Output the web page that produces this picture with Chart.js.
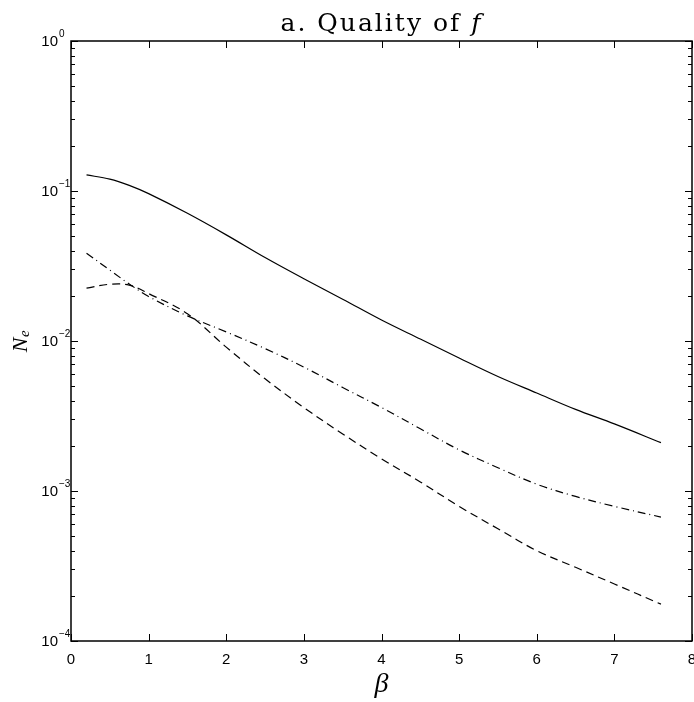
<!DOCTYPE html>
<html>
<head>
<meta charset="utf-8">
<script src="https://cdn.jsdelivr.net/npm/chart.js@4.4.1/dist/chart.umd.min.js"></script>
<style>
  html, body { margin: 0; padding: 0; background: #fff; }
  #wrap { width: 694px; height: 702px; }
</style>
</head>
<body>
<div id="wrap"><canvas id="c" width="694" height="702"></canvas></div>
<script>
// beta values
var beta = [0.2, 0.5, 0.75, 1, 1.5, 2, 2.5, 3, 3.5, 4, 4.5, 5, 5.5, 6, 6.5, 7, 7.6];
// solid
var neSolid = [0.128, 0.120, 0.109, 0.096, 0.071, 0.051, 0.036, 0.026, 0.019, 0.0138, 0.0103, 0.0077, 0.0058, 0.0045, 0.0035, 0.0028, 0.0021];
// dash-dot
var neDashDot = [0.0385, 0.0297, 0.0240, 0.0198, 0.0147, 0.0115, 0.0089, 0.0067, 0.0049, 0.0036, 0.0026, 0.00188, 0.00143, 0.00111, 0.00092, 0.00079, 0.00067];
// dashed
var neDashed = [0.0225, 0.0239, 0.0236, 0.0207, 0.0152, 0.0091, 0.0056, 0.0036, 0.0024, 0.00164, 0.00115, 0.00079, 0.00056, 0.00040, 0.00031, 0.00024, 0.000176];
var xTicks = [0, 1, 2, 3, 4, 5, 6, 7, 8];
var yTicks = [1e-4, 1e-3, 1e-2, 1e-1, 1];
var yTickExp = ['\u22124', '\u22123', '\u22122', '\u22121', '0'];

function pts(ys) {
	return beta.map(function(b, i) { return {x: b, y: ys[i]}; });
}

function line(ys, dash) {
	return {
		data: pts(ys),
		borderColor: '#000',
		borderWidth: 1.2,
		borderDash: dash,
		pointRadius: 0,
		fill: false,
		tension: 0.35
	};
}

// frame, inward ticks, y labels, title and axis titles
var decor = {
	id: 'decor',
	afterDraw: function(chart) {
		var c = chart.ctx, a = chart.chartArea;
		var xs = chart.scales.x, ys = chart.scales.y;
		c.save();
		c.strokeStyle = '#000';
		c.lineWidth = 1;
		c.beginPath();
		xTicks.forEach(function(t) {
			var px = Math.round(xs.getPixelForValue(t)) + 0.5;
			c.moveTo(px, a.bottom); c.lineTo(px, a.bottom - 7);
			c.moveTo(px, a.top); c.lineTo(px, a.top + 7);
		});
		for (var d = -4; d <= 0; d++) {
			for (var m = 1; m <= 9; m++) {
				var v = m * Math.pow(10, d);
				if (v > 1) break;
				var py = Math.round(ys.getPixelForValue(v)) + 0.5;
				var len = m == 1 ? 7 : 4;
				c.moveTo(a.left, py); c.lineTo(a.left + len, py);
				c.moveTo(a.right, py); c.lineTo(a.right - len, py);
			}
		}
		c.stroke();
		c.lineWidth = 1.5;
		c.strokeRect(a.left, a.top, a.right - a.left, a.bottom - a.top);

		// y tick labels 10^k
		c.fillStyle = '#000';
		yTicks.forEach(function(v, i) {
			var py = ys.getPixelForValue(v);
			c.textBaseline = 'middle';
			c.textAlign = 'right';
			c.font = '15px "Liberation Sans"';
			c.fillText('10', 58, py + 1);
			c.textAlign = 'left';
			c.font = '10px "Liberation Sans"';
			c.fillText(yTickExp[i], 59, py - 7);
		});

		// title
		c.textBaseline = 'alphabetic';
		c.letterSpacing = '2px';
		var t1 = 'a. Quality of ';
		c.font = '25px "DejaVu Serif"';
		var w1 = c.measureText(t1).width;
		c.font = 'italic 25px "DejaVu Serif"';
		var w2 = c.measureText('f').width;
		var cx = (a.left + a.right) / 2;
		var x0 = cx - (w1 + w2) / 2;
		c.font = '25px "DejaVu Serif"';
		c.textAlign = 'left';
		c.fillText(t1, x0, 31);
		c.font = 'italic 25px "DejaVu Serif"';
		c.fillText('f', x0 + w1, 31);
		c.letterSpacing = '0px';

		// x title
		c.font = 'italic 28px "Liberation Serif"';
		c.textAlign = 'center';
		c.fillText('\u03B2', cx, 692);

		// y title
		c.translate(27, 345);
		c.rotate(-Math.PI / 2);
		c.font = 'italic 22px "Liberation Serif"';
		c.textAlign = 'center';
		c.fillText('N', 0, 0);
		c.font = 'italic 15px "Liberation Serif"';
		c.textAlign = 'left';
		c.fillText('e', 8, 2);
		c.restore();
	}
};

var chart = new Chart(document.getElementById('c'), {
	type: 'line',
	data: {
		datasets: [line(neSolid, []), line(neDashDot, [8, 4, 1, 4]), line(neDashed, [8, 5])]
	},
	options: {
		responsive: false,
		animation: false,
		layout: { padding: { top: 41, right: 2, left: 0, bottom: 0 } },
		plugins: { legend: { display: false }, tooltip: { enabled: false }, title: { display: false } },
		scales: {
			x: {
				type: 'linear', min: 0, max: 8,
				grid: { display: false },
				border: { display: false },
				afterBuildTicks: function(s) { s.ticks = xTicks.map(function(v) { return {value: v}; }); },
				ticks: { color: '#000', padding: 2, maxRotation: 0, autoSkip: false, font: { family: 'Liberation Sans', size: 15 } },
				afterFit: function(s) { s.height = 61; s.paddingLeft = 0; s.paddingRight = 0; }
			},
			y: {
				type: 'logarithmic', min: 1e-4, max: 1,
				grid: { display: false },
				border: { display: false },
				ticks: { display: false },
				afterFit: function(s) { s.width = 71; }
			}
		}
	},
	plugins: [decor]
});
</script>
</body>
</html>
